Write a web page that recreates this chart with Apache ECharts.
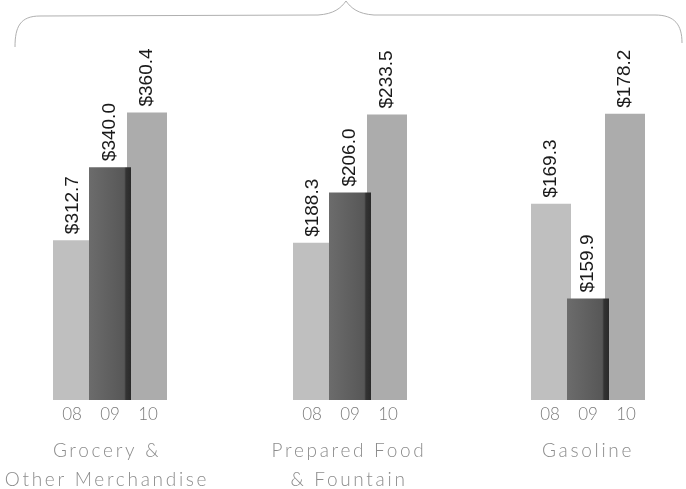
<!DOCTYPE html>
<html>
<head>
<meta charset="utf-8">
<script src="https://cdn.jsdelivr.net/npm/echarts@6/dist/echarts.min.js"></script>
<style>html,body{margin:0;padding:0;background:#fff;}#c{width:686px;height:489px;}</style>
</head>
<body>
<div id="c"></div>
<script>
// ---- data ----
const years = ['08', '09', '10'];
const groups = ['Grocery &\nOther Merchandise', 'Prepared Food\n& Fountain', 'Gasoline'];
const sales08 = [312.7, 188.3, 169.3];
const sales09 = [340.0, 206.0, 159.9];
const sales10 = [360.4, 233.5, 178.2];

// ---- per-group value-axis ranges (the original panels are not drawn to a common scale) ----
const axisMin = [252.96, 132.98, 149.86];
const axisMax = [365.1, 238.6, 179.56];

// ---- layout ----
const gridLeft = [53, 293, 531];
const gridWidth = 114;
const gridTop = 100;
const gridBottom = 89;
const nameCenter = [107, 349, 588];
const nameTop = 436;

const yearSeries = [sales08, sales09, sales10];
const colors = [
  '#bfbfbf',
  {type: 'linear', x: 0, y: 0, x2: 1, y2: 0, colorStops: [
    {offset: 0, color: '#6c6c6c'},
    {offset: 0.84, color: '#575757'},
    {offset: 0.88, color: '#333333'},
    {offset: 1, color: '#2a2a2a'}
  ]},
  '#acacac'
];

const grid = [], xAxis = [], yAxis = [], series = [], title = [];
groups.forEach((g, gi) => {
  grid.push({left: gridLeft[gi], width: gridWidth, top: gridTop, bottom: gridBottom,
             outerBoundsMode: 'none', containLabel: false});
  xAxis.push({
    type: 'category', gridIndex: gi, data: years,
    axisLine: {show: false}, axisTick: {show: false},
    axisLabel: {fontSize: 17, color: '#7a7a7a', fontFamily: '"Lato Light", Lato', fontWeight: 300, margin: 6}
  });
  yAxis.push({type: 'value', gridIndex: gi, min: axisMin[gi], max: axisMax[gi], show: false});
  title.push({
    text: g, left: nameCenter[gi], top: nameTop, textAlign: 'center', zlevel: 2, padding: 0,
    textStyle: {fontSize: 19, color: '#8c8c8c', fontFamily: '"Lato Light", Lato', fontWeight: 300, lineHeight: 29}
  });
  yearSeries.forEach((arr, yi) => {
    series.push({
      type: 'bar', xAxisIndex: gi, yAxisIndex: gi,
      barWidth: 42, barGap: '-100%',
      z: yi === 1 ? 3 : 2,
      itemStyle: {color: colors[yi]},
      label: {
        show: true, position: 'top', rotate: 90, align: 'left', verticalAlign: 'middle',
        distance: 5, fontSize: 19, color: '#1a1a1a', fontFamily: 'Liberation Sans',
        offset: [1, 0],
        formatter: p => '$' + Number(p.value).toFixed(1)
      },
      data: years.map((y, k) => k === yi ? arr[gi] : '-')
    });
  });
});

const braceStyle = {fill: 'none', stroke: '#b0b0b0', lineWidth: 1};
const brace = [
  {type: 'bezierCurve', shape: {x1: 15, y1: 47, cpx1: 15, cpy1: 27, cpx2: 20, cpy2: 16, x2: 40, y2: 16}},
  {type: 'line', shape: {x1: 40, y1: 16, x2: 318, y2: 15}},
  {type: 'bezierCurve', shape: {x1: 318, y1: 15, cpx1: 334, cpy1: 14, cpx2: 341, cpy2: 8, x2: 346, y2: 1}},
  {type: 'bezierCurve', shape: {x1: 346, y1: 1, cpx1: 351, cpy1: 8, cpx2: 358, cpy2: 14, x2: 374, y2: 15}},
  {type: 'line', shape: {x1: 374, y1: 15, x2: 655, y2: 15}},
  {type: 'bezierCurve', shape: {x1: 655, y1: 15, cpx1: 675, cpy1: 15, cpx2: 682, cpy2: 25, x2: 682, y2: 43}}
].map(e => Object.assign(e, {style: braceStyle, silent: true}));

const chart = echarts.init(document.getElementById('c'), null, {renderer: 'canvas'});
// the category captions in the original are widely tracked; give their canvas layer letter spacing
try {
  const layer = chart.getZr().painter.getLayer(2);
  if (layer && layer.ctx) layer.ctx.letterSpacing = '2.7px';
} catch (e) {}
chart.setOption({
  animation: false,
  backgroundColor: '#fff',
  title, grid, xAxis, yAxis, series,
  graphic: brace
});
</script>
</body>
</html>
